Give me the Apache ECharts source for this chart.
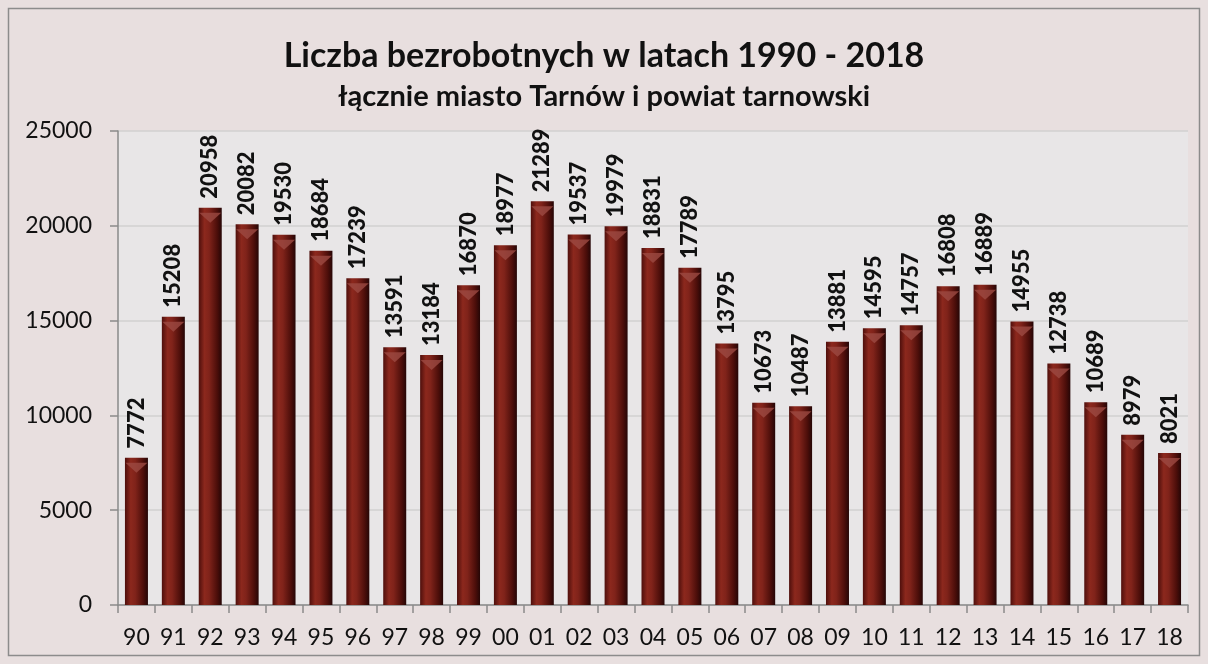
<!DOCTYPE html>
<html>
<head>
<meta charset="utf-8">
<script src="https://cdn.jsdelivr.net/npm/echarts@6/dist/echarts.min.js"></script>
<style>
  html, body { margin: 0; padding: 0; background: #fff; }
  #chart { width: 1208px; height: 664px; }
</style>
</head>
<body>
<div id="chart"></div>
<script>
// lata (dwie ostatnie cyfry) i liczba bezrobotnych
const years = ['90', '91', '92', '93', '94', '95', '96', '97', '98', '99',
  '00', '01', '02', '03', '04', '05', '06', '07', '08', '09',
  '10', '11', '12', '13', '14', '15', '16', '17', '18'];
const unemployed = [7772, 15208, 20958, 20082, 19530, 18684, 17239, 13591, 13184, 16870,
  18977, 21289, 19537, 19979, 18831, 17789, 13795, 10673, 10487, 13881,
  14595, 14757, 16808, 16889, 14955, 12738, 10689, 8979, 8021];
const yTicks = [0, 5000, 10000, 15000, 20000, 25000];

const font = 'Lato, "Open Sans", sans-serif';
const chart = echarts.init(document.getElementById('chart'));

const barFill = new echarts.graphic.LinearGradient(0, 0, 1, 0, [
  { offset: 0, color: '#4e0f0c' },
  { offset: 0.25, color: '#8c281d' },
  { offset: 0.45, color: '#80231a' },
  { offset: 0.8, color: '#4c0e0a' },
  { offset: 1, color: '#250606' }
]);

chart.setOption({
  backgroundColor: '#e8dfdf',
  animation: false,
  graphic: [{
    type: 'rect',
    shape: { x: 8.5, y: 8.5, width: 1191, height: 647 },
    style: { fill: 'none', stroke: '#8c8c8c', lineWidth: 1.5 },
    z: 100
  }],
  title: {
    text: 'Liczba bezrobotnych w latach 1990 - 2018',
    subtext: 'łącznie miasto Tarnów i powiat tarnowski',
    left: 'center',
    top: 34,
    itemGap: 9,
    textStyle: { fontFamily: font, fontWeight: 'bold', fontSize: 34, color: '#111' },
    subtextStyle: { fontFamily: font, fontWeight: 'bold', fontSize: 29, color: '#111' }
  },
  grid: {
    left: 118, right: 20, top: 131, bottom: 59,
    show: true, backgroundColor: '#e8e6e7', borderWidth: 0
  },
  xAxis: {
    type: 'category',
    data: years,
    axisLine: { lineStyle: { color: '#8a8a8a', width: 1.5 } },
    axisTick: { show: true, length: 8, lineStyle: { color: '#8a8a8a', width: 1.5 } },
    axisLabel: { fontFamily: font, fontSize: 23, color: '#111', margin: 21 }
  },
  yAxis: {
    type: 'value',
    min: yTicks[0],
    max: yTicks[yTicks.length - 1],
    interval: yTicks[1] - yTicks[0],
    axisLine: { show: true, lineStyle: { color: '#8a8a8a', width: 1.5 } },
    axisTick: { show: true, length: 8, lineStyle: { color: '#8a8a8a', width: 1.5 } },
    axisLabel: { fontFamily: font, fontSize: 23, color: '#111', margin: 26, formatter: v => String(v) },
    splitLine: { lineStyle: { color: '#d2d0d1', width: 1.5 } }
  },
  series: [
    {
      type: 'bar',
      data: unemployed,
      barWidth: 23,
      itemStyle: { color: barFill },
      label: {
        show: true,
        position: 'top',
        rotate: 90,
        align: 'left',
        verticalAlign: 'middle',
        distance: 9,
        fontFamily: font,
        fontWeight: 900,
        fontSize: 22,
        color: '#111'
      },
      z: 2
    },
    {
      // jasny trójkąt na szczycie słupka
      type: 'pictorialBar',
      data: unemployed,
      symbol: 'triangle',
      symbolRotate: 180,
      symbolPosition: 'end',
      symbolSize: [22, 10],
      symbolOffset: [0, '50%'],
      itemStyle: { color: '#9c4a42', opacity: 0.8 },
      silent: true,
      z: 3
    }
  ]
});
</script>
</body>
</html>
